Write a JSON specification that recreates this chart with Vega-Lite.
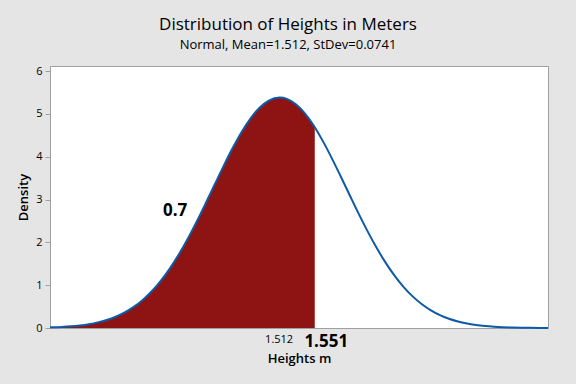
{
  "$schema": "https://vega.github.io/schema/vega-lite/v6.json",
  "width": 498,
  "height": 262,
  "autosize": {"type": "none"},
  "padding": {"left": 50, "top": 66, "right": 28, "bottom": 56},
  "background": "#e5e5e5",
  "title": {
    "text": "Distribution of Heights in Meters",
    "subtitle": "Normal, Mean=1.512, StDev=0.0741",
    "anchor": "middle",
    "dx": -11,
    "font": "Open Sans",
    "fontSize": 17,
    "fontWeight": 500,
    "color": "#000000",
    "subtitleFont": "Open Sans",
    "subtitleFontSize": 13,
    "subtitleColor": "#000000",
    "subtitlePadding": 5,
    "offset": 12
  },
  "config": {
    "view": {"stroke": "#a0a0a0", "strokeWidth": 1, "fill": "#ffffff"},
    "axis": {
      "grid": false,
      "domainColor": "#a0a0a0",
      "tickColor": "#a0a0a0",
      "labelFont": "Open Sans",
      "titleFont": "Open Sans",
      "labelColor": "#000000",
      "titleColor": "#000000"
    }
  },
  "datasets": {
    "curve": [
      {"x": 1.257, "density": 0.01446},
      {"x": 1.26, "density": 0.01659},
      {"x": 1.27, "density": 0.0260},
      {"x": 1.28, "density": 0.04003},
      {"x": 1.29, "density": 0.06053},
      {"x": 1.30, "density": 0.08986},
      {"x": 1.31, "density": 0.1310},
      {"x": 1.32, "density": 0.1876},
      {"x": 1.33, "density": 0.2636},
      {"x": 1.34, "density": 0.3640},
      {"x": 1.35, "density": 0.4934},
      {"x": 1.36, "density": 0.6568},
      {"x": 1.37, "density": 0.8583},
      {"x": 1.38, "density": 1.1016},
      {"x": 1.39, "density": 1.3882},
      {"x": 1.40, "density": 1.7179},
      {"x": 1.41, "density": 2.0876},
      {"x": 1.42, "density": 2.4909},
      {"x": 1.43, "density": 2.9188},
      {"x": 1.44, "density": 3.3579},
      {"x": 1.45, "density": 3.7939},
      {"x": 1.46, "density": 4.2088},
      {"x": 1.47, "density": 4.5849},
      {"x": 1.48, "density": 4.9045},
      {"x": 1.49, "density": 5.1517},
      {"x": 1.50, "density": 5.3137},
      {"x": 1.512, "density": 5.3838},
      {"x": 1.52, "density": 5.3525},
      {"x": 1.53, "density": 5.2273},
      {"x": 1.54, "density": 5.0129},
      {"x": 1.55, "density": 4.7205},
      {"x": 1.551, "density": 4.6874},
      {"x": 1.56, "density": 4.3649},
      {"x": 1.57, "density": 3.9632},
      {"x": 1.58, "density": 3.5337},
      {"x": 1.59, "density": 3.0938},
      {"x": 1.60, "density": 2.6597},
      {"x": 1.61, "density": 2.2454},
      {"x": 1.62, "density": 1.8613},
      {"x": 1.63, "density": 1.5151},
      {"x": 1.64, "density": 1.2110},
      {"x": 1.65, "density": 0.9504},
      {"x": 1.66, "density": 0.7325},
      {"x": 1.67, "density": 0.5544},
      {"x": 1.68, "density": 0.4120},
      {"x": 1.69, "density": 0.3006},
      {"x": 1.70, "density": 0.2153},
      {"x": 1.71, "density": 0.1516},
      {"x": 1.72, "density": 0.1047},
      {"x": 1.73, "density": 0.0710},
      {"x": 1.74, "density": 0.0473},
      {"x": 1.75, "density": 0.0310},
      {"x": 1.76, "density": 0.0199},
      {"x": 1.77, "density": 0.01255},
      {"x": 1.78, "density": 0.00778},
      {"x": 1.79, "density": 0.00473},
      {"x": 1.80, "density": 0.00282},
      {"x": 1.81, "density": 0.00166}
    ],
    "note": [
      {"x": 1.396, "density": 2.73, "label": "0.7"}
    ]
  },
  "layer": [
    {
      "data": {"name": "curve"},
      "transform": [{"filter": "datum.x <= 1.551"}],
      "mark": {"type": "area", "color": "#8e1414", "interpolate": "monotone"},
      "encoding": {
        "x": {
          "field": "x",
          "type": "quantitative",
          "scale": {"domain": [1.257, 1.81], "nice": false, "zero": false},
          "axis": {
            "values": [1.512, 1.551],
            "format": ".3f",
            "ticks": false,
            "labelPadding": 5,
            "labelFontSize": {"condition": {"test": "datum.value > 1.54", "value": 17}, "value": 11},
            "labelFontWeight": {"condition": {"test": "datum.value > 1.54", "value": "bold"}, "value": "normal"},
            "labelOffset": {"condition": {"test": "datum.value > 1.54", "value": 11}, "value": -1},
            "title": "Heights m",
            "titleFontSize": 13,
            "titleFontWeight": 600,
            "titlePadding": 3
          }
        },
        "y": {
          "field": "density",
          "type": "quantitative",
          "scale": {"domain": [0, 6.12], "nice": false},
          "axis": {
            "values": [0, 1, 2, 3, 4, 5, 6],
            "tickSize": 5,
            "labelFontSize": 11,
            "labelPadding": 3,
            "title": "Density",
            "titleFontSize": 13,
            "titleFontWeight": 600,
            "titlePadding": 5
          }
        }
      }
    },
    {
      "data": {"name": "curve"},
      "mark": {"type": "line", "color": "#0d5aa7", "strokeWidth": 2, "interpolate": "monotone"},
      "encoding": {
        "x": {"field": "x", "type": "quantitative"},
        "y": {"field": "density", "type": "quantitative"}
      }
    },
    {
      "data": {"name": "note"},
      "mark": {"type": "text", "font": "Open Sans", "fontSize": 17, "fontWeight": "bold", "color": "#000000"},
      "encoding": {
        "x": {"field": "x", "type": "quantitative"},
        "y": {"field": "density", "type": "quantitative"},
        "text": {"field": "label"}
      }
    }
  ]
}
